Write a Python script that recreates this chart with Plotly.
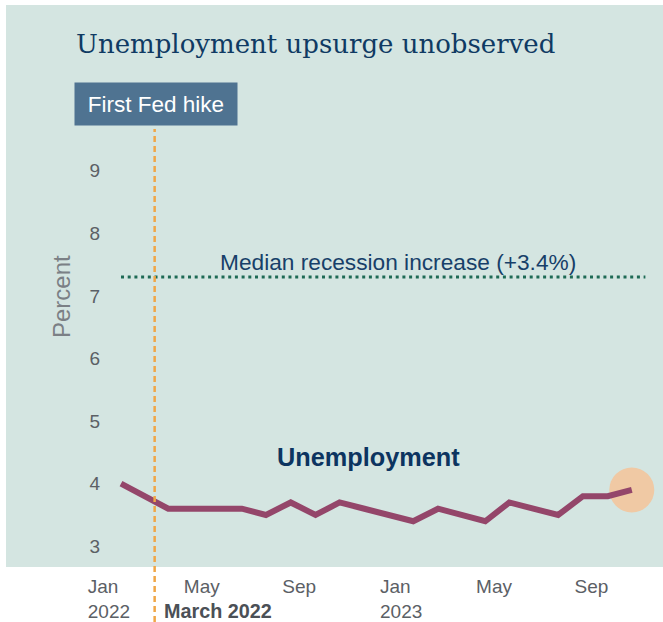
import plotly.graph_objects as go

# ---------------- data ----------------
months = ["2022-01-15", "2022-02-15", "2022-03-15", "2022-04-15", "2022-05-15", "2022-06-15",
          "2022-07-15", "2022-08-15", "2022-09-15", "2022-10-15", "2022-11-15", "2022-12-15",
          "2023-01-15", "2023-02-15", "2023-03-15", "2023-04-15", "2023-05-15", "2023-06-15",
          "2023-07-15", "2023-08-15", "2023-09-15", "2023-10-15"]
unemployment = [4.0, 3.8, 3.6, 3.6, 3.6, 3.6, 3.5, 3.7, 3.5, 3.7, 3.6, 3.5,
                3.4, 3.6, 3.5, 3.4, 3.7, 3.6, 3.5, 3.8, 3.8, 3.9]
median_recession_increase = 3.4
median_line_end = "2023-11-01"
first_hike_date = "2022-02-26"
tick_dates = ["2022-01-01", "2022-05-01", "2022-09-01", "2023-01-01", "2023-05-01", "2023-09-01"]
tick_labels = ["Jan<br>2022", "May", "Sep", "Jan<br>2023", "May", "Sep"]
y_ticks = [3, 4, 5, 6, 7, 8, 9]

# ---------------- layout helpers ----------------
W, H = 663, 622
L, R, T, B = 105, 8, 130, 55
PW, PH = W - L - R, H - T - B


def xp(px):
    return (px - L) / PW


def yp(py):
    return (H - B - py) / PH


BG = "#d4e5e1"
NAVY = "#0f3a63"
SANS = "Liberation Sans, Arial, Helvetica, sans-serif"

median_level = unemployment[-1] + median_recession_increase

fig = go.Figure()

# highlight circle at latest value
fig.add_trace(go.Scatter(
    x=[months[-1]], y=[unemployment[-1]], mode="markers",
    marker=dict(size=45, color="#f0c9a4", line=dict(width=0)),
    hoverinfo="skip", showlegend=False))

# median recession increase line
fig.add_trace(go.Scatter(
    x=[months[0], median_line_end], y=[median_level, median_level], mode="lines",
    line=dict(color="#1e6a55", width=3, dash="3px,3.7px"),
    hoverinfo="skip", showlegend=False))

# unemployment line
fig.add_trace(go.Scatter(
    x=months, y=unemployment, mode="lines",
    line=dict(color="#94466a", width=6),
    showlegend=False))

shapes = [
    dict(type="rect", xref="paper", yref="paper", x0=xp(6), x1=xp(663), y0=yp(567), y1=yp(5),
         fillcolor=BG, line=dict(width=0), layer="below"),
    dict(type="line", xref="x", yref="paper", x0=first_hike_date, x1=first_hike_date,
         y0=yp(622), y1=yp(129), line=dict(color="#f0a646", width=2.5, dash="6px,4px"), layer="above"),
]

annotations = [
    dict(text="Unemployment upsurge unobserved", xref="paper", yref="paper",
         x=xp(75), y=yp(44), xanchor="left", yanchor="middle", showarrow=False,
         font=dict(family="DejaVu Serif, serif", size=26, color=NAVY), borderpad=0),
    dict(text="First Fed hike", xref="paper", yref="paper",
         x=xp(156), y=yp(104), xanchor="center", yanchor="middle", showarrow=False,
         width=162, height=42, bgcolor="#4f7391", borderpad=0, align="center",
         font=dict(family=SANS, size=22.5, color="white")),
    dict(text="Median recession increase (+3.4%)", xref="paper", yref="paper",
         x=xp(398), y=yp(262), xanchor="center", yanchor="middle", showarrow=False,
         font=dict(family=SANS, size=22.7, color="#173f69")),
    dict(text="<b>Unemployment</b>", xref="paper", yref="paper",
         x=xp(368), y=yp(457), xanchor="center", yanchor="middle", showarrow=False,
         font=dict(family=SANS, size=25.3, color="#0c3460")),
    dict(text="<b>March 2022</b>", xref="x", yref="paper",
         x=first_hike_date, xshift=7, y=yp(611), xanchor="left", yanchor="middle", showarrow=False,
         font=dict(family=SANS, size=19.8, color="#4b5056")),
    dict(text="Percent", xref="paper", yref="paper", textangle=-90,
         x=xp(61), y=yp(297), xanchor="center", yanchor="middle", showarrow=False,
         font=dict(family=SANS, size=24, color="#7b8085")),
]

fig.update_layout(
    width=W, height=H,
    margin=dict(l=L, r=R, t=T, b=B, pad=0, autoexpand=False),
    paper_bgcolor="white", plot_bgcolor="rgba(0,0,0,0)",
    shapes=shapes, annotations=annotations,
    showlegend=False,
    xaxis=dict(type="date", range=["2021-12-26", "2023-11-13"],
               tickvals=tick_dates, ticktext=tick_labels,
               ticklabelposition="outside right", ticklabelshift=-22,
               ticklabelstandoff=6, automargin=False,
               showgrid=False, zeroline=False, showline=False, ticks="",
               tickfont=dict(family=SANS, size=19, color="#5b6065")),
    yaxis=dict(range=[2.669, 9.650], tickvals=y_ticks, automargin=False,
               showgrid=False, zeroline=False, showline=False, ticks="",
               ticklabelstandoff=4,
               tickfont=dict(family=SANS, size=19, color="#5b6065")),
)

fig.write_html("out.html")
